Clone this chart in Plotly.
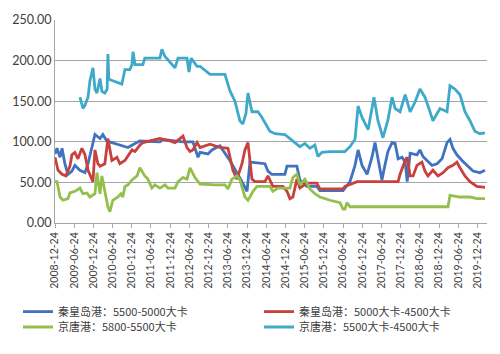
import plotly.graph_objects as go

# 秦皇岛港：5500-5000大卡
qhd_hi_dates = ["2008-12-24","2009-01-12","2009-02-10","2009-03-01","2009-03-28","2009-04-26","2009-06-03","2009-07-01","2009-08-18","2009-10-05","2009-11-03","2009-12-10","2010-01-08","2010-02-25","2010-03-24","2010-05-01","2010-11-18","2011-01-24","2011-03-11","2011-09-18","2011-10-16","2012-04-24","2012-07-27","2012-09-14","2012-10-03","2012-12-18","2013-01-25","2013-04-10","2013-07-14","2013-11-06","2013-12-24","2014-01-21","2014-06-12","2014-07-11","2014-08-17","2014-12-19","2015-01-08","2015-04-12","2015-05-11","2015-07-16","2015-10-19","2015-11-17","2016-06-24","2016-08-29","2016-10-16","2016-11-14","2016-12-22","2017-02-08","2017-03-26","2017-04-24","2017-06-10","2017-06-29","2017-07-27","2017-08-25","2017-10-03","2017-11-01","2017-11-30","2018-01-06","2018-02-05","2018-02-24","2018-03-24","2018-05-28","2018-06-25","2018-07-24","2018-08-31","2018-10-18","2018-12-05","2019-01-21","2019-03-10","2019-04-07","2019-05-05","2019-06-12","2019-07-30","2019-09-15","2019-11-12","2020-01-16","2020-03-05"]
qhd_hi_vals = [85,92,81,92,73,60,64,71,65,62,73,92,109,104,109,101,93,98,101,100,103,100,100,81,87,85,90,95,77,51,39,75,73,64,60,60,70,70,53,45,45,40,40,51,71,90,71,60,81,99,68,53,71,88,99,98,79,81,75,51,86,84,90,82,77,71,73,79,99,103,92,84,77,71,64,62,65]

# 秦皇岛港：5000大卡-4500大卡
qhd_lo_dates = ["2008-12-24","2009-01-22","2009-03-01","2009-04-06","2009-05-15","2009-06-03","2009-07-01","2009-07-30","2009-09-06","2009-10-05","2009-11-03","2009-12-10","2009-12-20","2010-01-08","2010-02-05","2010-02-25","2010-04-12","2010-05-11","2010-06-18","2010-08-05","2010-09-02","2010-10-20","2010-11-18","2010-12-26","2011-01-24","2011-03-11","2011-04-09","2011-06-14","2011-09-18","2011-12-22","2012-02-08","2012-03-26","2012-04-24","2012-06-01","2012-06-30","2012-07-27","2012-09-05","2012-10-03","2013-01-06","2013-04-10","2013-06-26","2013-08-12","2013-09-19","2013-11-06","2013-12-04","2014-01-02","2014-02-09","2014-03-10","2014-06-12","2014-07-11","2014-08-27","2014-11-30","2015-01-08","2015-02-05","2015-03-05","2015-04-12","2015-05-11","2015-07-16","2015-10-19","2015-11-17","2016-06-24","2016-07-12","2016-11-05","2017-11-30","2017-12-18","2018-02-05","2018-02-24","2018-03-24","2018-04-21","2018-05-28","2018-07-14","2018-08-12","2018-09-10","2018-10-27","2018-12-14","2019-01-31","2019-03-19","2019-05-05","2019-06-12","2019-07-11","2019-08-27","2019-10-14","2019-12-19","2020-03-05"]
qhd_lo_vals = [81,65,60,58,70,84,87,79,92,84,65,54,51,90,73,70,73,104,77,81,73,77,82,90,88,96,99,101,104,101,99,104,107,93,88,90,99,93,97,93,92,65,54,73,90,99,54,51,51,58,45,45,39,30,32,54,43,49,49,42,42,45,51,51,60,77,81,58,58,71,75,64,58,65,58,62,68,71,75,68,58,51,45,44]

# 京唐港：5800-5500大卡
jt_hi_dates = ["2008-12-24","2009-01-12","2009-02-10","2009-03-10","2009-04-26","2009-05-15","2009-07-01","2009-08-18","2009-09-16","2009-10-24","2009-11-21","2010-01-08","2010-01-27","2010-02-25","2010-03-15","2010-04-12","2010-05-11","2010-05-30","2010-06-27","2010-08-14","2010-09-12","2010-09-30","2010-10-20","2010-11-18","2010-12-26","2011-02-12","2011-03-11","2011-04-27","2011-05-26","2011-07-03","2011-07-31","2011-09-18","2011-11-05","2011-12-03","2012-02-08","2012-03-08","2012-04-24","2012-06-01","2012-06-30","2012-08-16","2012-10-03","2013-02-24","2013-05-28","2013-06-26","2013-08-02","2013-09-19","2013-10-17","2013-12-04","2014-01-02","2014-01-21","2014-02-19","2014-03-28","2014-07-29","2014-08-27","2014-10-14","2015-02-05","2015-03-05","2015-04-12","2015-05-11","2015-06-27","2015-08-14","2015-09-30","2015-11-17","2016-02-21","2016-05-26","2016-06-24","2016-07-12","2016-07-31","2016-08-29","2019-03-19","2019-04-07","2019-07-11","2019-10-14","2019-12-19","2020-03-05"]
jt_hi_vals = [51,51,32,28,30,37,39,43,36,37,32,36,62,36,58,39,20,14,28,32,36,32,45,47,53,58,68,58,54,43,47,43,47,43,43,51,56,54,68,56,48,47,47,42,54,58,53,32,28,32,39,45,45,39,43,43,56,60,47,54,42,36,32,28,25,17,17,25,20,20,34,32,32,30,30]

# 京唐港：5500大卡-4500大卡
jt_lo_dates = ["2009-08-18","2009-09-16","2009-10-05","2009-11-03","2009-11-21","2009-12-20","2010-01-08","2010-01-27","2010-02-25","2010-03-15","2010-04-12","2010-05-04","2010-05-11","2010-05-20","2010-09-21","2010-10-20","2010-12-06","2010-12-26","2011-01-05","2011-01-24","2011-04-09","2011-04-27","2011-09-18","2011-10-06","2011-11-05","2012-02-08","2012-03-08","2012-06-01","2012-06-20","2012-07-10","2012-09-05","2012-10-03","2013-01-06","2013-05-28","2013-07-14","2013-08-31","2013-10-17","2013-11-15","2013-12-14","2014-01-02","2014-02-09","2014-04-07","2014-05-15","2014-06-12","2014-07-29","2014-09-15","2014-12-19","2015-02-05","2015-03-24","2015-05-11","2015-06-27","2015-08-14","2015-09-30","2015-10-29","2015-12-06","2016-02-21","2016-07-12","2016-08-29","2016-10-16","2016-11-14","2016-12-22","2017-02-18","2017-04-14","2017-05-22","2017-07-09","2017-08-25","2017-10-03","2017-11-01","2017-12-18","2018-02-05","2018-03-24","2018-05-10","2018-06-25","2018-08-12","2018-09-29","2018-10-27","2019-01-02","2019-03-10","2019-04-07","2019-05-24","2019-07-11","2019-08-27","2019-10-14","2019-11-30","2020-01-16","2020-03-05"]
jt_lo_vals = [155,141,145,155,175,191,165,160,178,162,160,165,208,177,171,189,189,195,211,195,195,203,203,214,205,191,203,203,186,203,193,193,183,183,163,150,126,122,135,160,137,137,130,124,113,110,109,104,99,94,98,92,96,82,87,88,88,94,103,144,130,115,155,126,105,127,155,141,137,158,137,149,165,155,137,126,141,137,169,165,158,137,126,113,110,111]

names = ["秦皇岛港：5500-5000大卡", "秦皇岛港：5000大卡-4500大卡",
         "京唐港：5800-5500大卡", "京唐港：5500大卡-4500大卡"]
colors = ["#3f73c0", "#c9403d", "#93bf4a", "#3fa9c9"]
legend_ids = ["legend", "legend", "legend2", "legend2"]

tick_dates = ["2008-12-24","2009-06-24","2009-12-24","2010-06-24","2010-12-24","2011-06-24",
              "2011-12-24","2012-06-24","2012-12-24","2013-06-24","2013-12-24","2014-06-24",
              "2014-12-24","2015-06-24","2015-12-24","2016-06-24","2016-12-24","2017-06-24",
              "2017-12-24","2018-06-24","2018-12-24","2019-06-24","2019-12-24"]
y_ticks = [0, 50, 100, 150, 200, 250]

series = [(qhd_hi_dates, qhd_hi_vals), (qhd_lo_dates, qhd_lo_vals),
          (jt_hi_dates, jt_hi_vals), (jt_lo_dates, jt_lo_vals)]

fig = go.Figure()
for (d, v), n, c, lg in zip(series, names, colors, legend_ids):
    fig.add_trace(go.Scatter(x=d, y=v, name=n, mode="lines", legend=lg,
                             line=dict(color=c, width=2.8)))

legend_style = dict(orientation="h", xanchor="left", yanchor="top",
                    entrywidth=196, entrywidthmode="pixels",
                    font=dict(family="'Noto Sans CJK SC', sans-serif", size=11, color="#404040"),
                    itemwidth=30, bgcolor="rgba(0,0,0,0)")

fig.update_layout(
    width=500, height=354,
    margin=dict(l=55, r=13, t=13, b=119),
    paper_bgcolor="white", plot_bgcolor="white",
    font=dict(family="Lato, 'Noto Sans CJK SC', sans-serif", size=12, color="#404040"),
    showlegend=True,
    legend=dict(x=-0.054, y=-0.365, **legend_style),
    legend2=dict(x=-0.054, y=-0.441, **legend_style),
)
fig.update_xaxes(type="date", range=["2008-12-24", "2020-03-24"],
                 tickmode="array", tickvals=tick_dates, ticktext=tick_dates,
                 tickangle=-90, tickfont=dict(size=10.5, color="#404040"),
                 showgrid=False, showline=True, linecolor="#a6a6a6", linewidth=1,
                 ticks="outside", ticklen=4, tickcolor="#a6a6a6", zeroline=False)
fig.update_yaxes(range=[0, 250], tickvals=y_ticks, tickformat=".2f",
                 showgrid=True, gridcolor="#a6a6a6", gridwidth=1,
                 showline=True, linecolor="#a6a6a6", linewidth=1,
                 ticks="", zeroline=False, tickfont=dict(size=12.5, color="#404040"))

fig.write_html("out.html")
